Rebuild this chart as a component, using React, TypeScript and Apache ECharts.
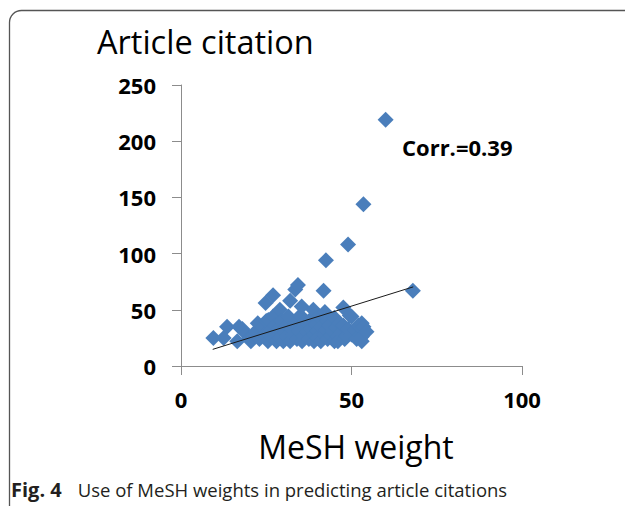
import React, { useEffect, useRef } from "react";
import * as echarts from "echarts";

// MeSH weight (x) and article citations (y)
const meshWeight: number[] = [
  9.5, 12.5, 13.5, 16.5, 17, 18, 19, 20, 20.5, 21, 22, 22.5, 23, 24, 24.5, 24.8, 25, 25.5, 25.6,
  26, 26.5, 27, 27, 27.5, 28, 28, 28.5, 29, 29, 29.5, 30, 30.5, 31, 31, 31.5, 32, 32, 32.5, 33,
  33.5, 33.5, 34, 34.3, 34.5, 35, 35.4, 35.5, 36, 36, 36.5, 37, 37.5, 38, 38.5, 38.8, 39, 39,
  39.5, 40, 40, 40.5, 41, 41, 41.8, 42, 42.2, 42.5, 42.5, 43, 43, 43.5, 44, 44.5, 45, 45, 45.5,
  46, 46, 46.5, 47, 47.6, 47.6, 48, 48.5, 49, 49, 49.5, 50, 50, 51, 51.5, 52, 53, 53, 53, 53.5,
  53.5, 54.4, 60, 68,
];
const citations: number[] = [
  25, 25, 35, 22, 35, 33, 29, 25, 22, 27, 31, 38, 24, 35, 28, 56, 40, 22, 41,
  31, 26, 44, 63, 36, 22, 29, 33, 25, 50, 40, 22, 30, 36, 26, 44, 22, 58, 33, 28,
  38, 68, 24, 72, 31, 45, 53, 22, 27, 35, 40, 30, 24, 33, 43, 50, 22, 28,
  37, 31, 25, 44, 22, 35, 67, 28, 48, 94, 32, 24, 40, 36, 27, 31, 22, 43, 34,
  26, 22, 38, 30, 52, 36, 24, 27, 108, 33, 45, 44, 28, 32, 24, 36, 26, 38, 22, 35,
  144, 30.5, 219, 67,
];

// Fitted trend line end points
const trendX: number[] = [9.3, 68.1];
const trendY: number[] = [14.8, 70.4];

const yTicks = { min: 0, max: 250, interval: 50 };
const xTicks = { min: 0, max: 100, interval: 50 };

const App: React.FC = () => {
  const ref = useRef<HTMLDivElement>(null);
  useEffect(() => {
    if (!ref.current) return;
    const chart = echarts.init(ref.current, null, { renderer: "svg" });
    const axisColor = "#8c8c8c";
    const labelFont = {
      fontFamily: "Open Sans",
      fontWeight: "bold" as const,
      fontSize: 22,
      color: "#000",
    };
    chart.setOption({
      animation: false,
      backgroundColor: "#fff",
      grid: { left: 181, right: 103, top: 85, bottom: 140, containLabel: false },
      xAxis: {
        type: "value",
        min: xTicks.min,
        max: xTicks.max,
        interval: xTicks.interval,
        splitLine: { show: false },
        axisLine: { show: true, onZero: false, lineStyle: { color: axisColor, width: 1 } },
        axisTick: { show: true, inside: false, length: 9, lineStyle: { color: axisColor } },
        axisLabel: { ...labelFont, margin: 22 },
      },
      yAxis: {
        type: "value",
        min: yTicks.min,
        max: yTicks.max,
        interval: yTicks.interval,
        splitLine: { show: false },
        axisLine: { show: true, onZero: false, lineStyle: { color: axisColor, width: 1 } },
        axisTick: { show: true, inside: false, length: 9, lineStyle: { color: axisColor } },
        axisLabel: { ...labelFont, margin: 25 },
      },
      series: [
        {
          type: "scatter",
          symbol: "diamond",
          symbolSize: 16,
          itemStyle: { color: "#4A7EBB", opacity: 1 },
          data: meshWeight.map((x, i) => [x, citations[i]]),
          z: 2,
        },
        {
          type: "line",
          showSymbol: false,
          symbol: "none",
          lineStyle: { color: "#1a1a1a", width: 1 },
          data: trendX.map((x, i) => [x, trendY[i]]),
          z: 3,
        },
      ],
      graphic: [
        {
          type: "rect",
          shape: { x: 9.5, y: 10.5, width: 660, height: 520, r: 12 },
          style: { fill: "none", stroke: "#555", lineWidth: 1.3 },
          silent: true,
        },
        {
          type: "text",
          x: 97,
          y: 41,
          style: {
            text: "Article citation",
            fontFamily: "Open Sans",
            fontSize: 32.5,
            fill: "#000",
            textVerticalAlign: "middle",
          },
        },
        {
          type: "text",
          x: 402,
          y: 147,
          style: {
            text: "Corr.=0.39",
            fontFamily: "Open Sans",
            fontWeight: "bold",
            fontSize: 22,
            fill: "#000",
            textVerticalAlign: "middle",
          },
        },
        {
          type: "text",
          x: 356,
          y: 446,
          style: {
            text: "MeSH weight",
            fontFamily: "Open Sans",
            fontSize: 32,
            fill: "#000",
            textAlign: "center",
            textVerticalAlign: "middle",
          },
        },
        {
          type: "text",
          x: 11,
          y: 489,
          style: {
            text: "{b|Fig. 4}{r|Use of MeSH weights in predicting article citations}",
            textVerticalAlign: "middle",
            rich: {
              b: { fontFamily: "Open Sans", fontWeight: "bold", fontSize: 20, fill: "#231f20" },
              r: { fontFamily: "Open Sans", fontSize: 18.5, fill: "#231f20", padding: [0, 0, 0, 16] },
            },
          },
        },
      ],
    });
    return () => chart.dispose();
  }, []);
  return (
    <div
      ref={ref}
      style={{ position: "absolute", left: 0, top: 0, width: 625, height: 506 }}
    />
  );
};

export default App;
